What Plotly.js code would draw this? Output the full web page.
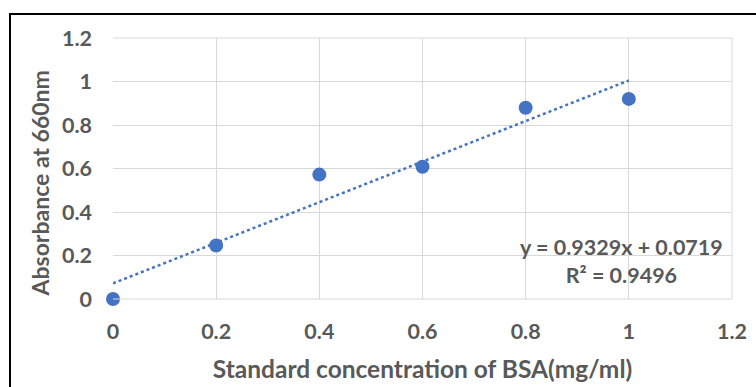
<!DOCTYPE html>
<html>
<head>
<meta charset="utf-8">
<script src="https://cdn.plot.ly/plotly-3.0.1.min.js"></script>
<style>
  html, body { margin: 0; padding: 0; background: #fff; }
  #wrap { position: relative; width: 756px; height: 387px; overflow: hidden; }
  #chart { position: absolute; left: 0; top: 0; width: 756px; height: 387px; }
  #frame { position: absolute; left: 9px; top: 13px; width: 800px; height: 400px;
           border-left: 2.5px solid #000; border-top: 2.5px solid #000; pointer-events: none; }
</style>
</head>
<body>
<div id="wrap">
  <div id="chart"></div>
  <div id="frame"></div>
</div>
<script>
// Data
const concentration = [0, 0.2, 0.4, 0.6, 0.8, 1.0];
const absorbance = [0, 0.246, 0.572, 0.608, 0.879, 0.92];
// Linear trendline as reported on the chart
const trendSlope = 0.9329;
const trendIntercept = 0.0719;
const trendRange = [0, 1.0];
const equationText = "y = 0.9329x + 0.0719";
const r2Text = "R² = 0.9496";
const xTicks = [0, 0.2, 0.4, 0.6, 0.8, 1, 1.2];
const yTicks = [0, 0.2, 0.4, 0.6, 0.8, 1, 1.2];
const xTitle = "Standard concentration of BSA(mg/ml)";
const yTitle = "Absorbance at 660nm";

const blue = "#4472C4";
const grey = "#595959";
const font = "Lato, 'Open Sans', sans-serif";

const trendY = trendRange.map(x => trendIntercept + trendSlope * x);

const traces = [
  {
    x: trendRange, y: trendY, type: "scatter", mode: "lines",
    line: { color: blue, width: 2.5, dash: "dot" }, hoverinfo: "skip"
  },
  {
    x: concentration, y: absorbance, type: "scatter", mode: "markers",
    cliponaxis: false,
    marker: { color: blue, size: 14 }
  }
];

const layout = {
  width: 756, height: 387,
  margin: { l: 113, r: 24, t: 38, b: 88 },
  paper_bgcolor: "#fff", plot_bgcolor: "#fff",
  showlegend: false,
  font: { family: font, color: grey },
  xaxis: {
    range: [0, 1.2], tickvals: xTicks, ticktext: xTicks.map(String),
    showgrid: true, gridcolor: "#d9d9d9", gridwidth: 1,
    zeroline: false, showline: false, mirror: false,
    ticks: "", ticklabelstandoff: 17,
    tickfont: { family: font, size: 21.5, color: grey, weight: "bold" },
    title: { text: xTitle, font: { family: font, size: 24.5, color: grey, weight: "bold" }, standoff: 18 }
  },
  yaxis: {
    range: [0, 1.2], tickvals: yTicks, ticktext: yTicks.map(String),
    showgrid: true, gridcolor: "#d9d9d9", gridwidth: 1,
    zeroline: false, showline: false,
    ticks: "", ticklabelstandoff: 20,
    tickfont: { family: font, size: 21.5, color: grey, weight: "bold" }
  },
  shapes: [
    { type: "line", xref: "paper", yref: "paper", x0: 1, x1: 1, y0: 0, y1: 1, line: { color: "#d9d9d9", width: 1 } },
    { type: "line", xref: "paper", yref: "paper", x0: 0, x1: 1, y0: 1, y1: 1, line: { color: "#d9d9d9", width: 1 } },
    { type: "line", xref: "paper", yref: "paper", x0: 0, x1: 1, y0: 0, y1: 0, line: { color: "#d9d9d9", width: 1 } }
  ],
  annotations: [
    {
      xref: "paper", yref: "paper", x: 0.821, y: 0.1475, xanchor: "center", yanchor: "middle",
      text: equationText + "<br>" + r2Text, showarrow: false, align: "center",
      font: { family: font, size: 21.5, color: grey, weight: "bold" }
    },
    {
      xref: "paper", yref: "paper", x: -0.118, y: 0.4425, xanchor: "center", yanchor: "middle",
      text: yTitle, textangle: -90, showarrow: false,
      font: { family: font, size: 23, color: grey, weight: "bold" }
    }
  ]
};

Plotly.newPlot("chart", traces, layout, { displayModeBar: false, staticPlot: true });
</script>
</body>
</html>
